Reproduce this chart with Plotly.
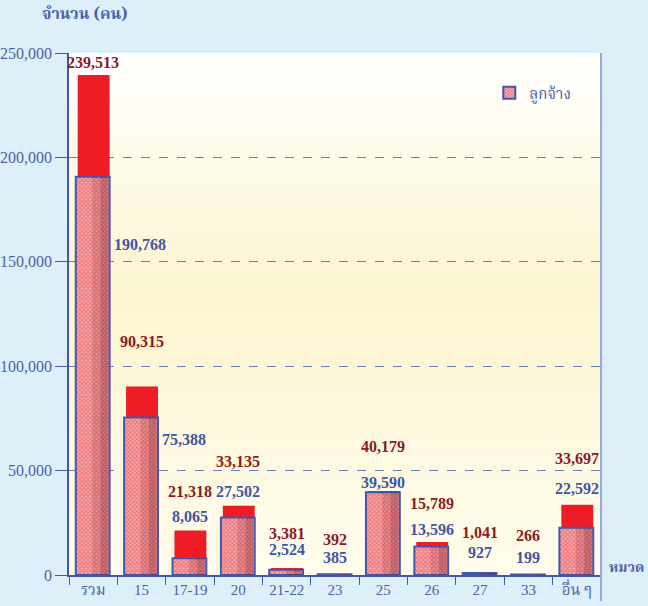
import plotly.graph_objects as go

categories = ["รวม", "15", "17-19", "20", "21-22", "23", "25", "26", "27", "33", "อื่น ๆ"]
total_values = [239513, 90315, 21318, 33135, 3381, 392, 40179, 15789, 1041, 266, 33697]
employee_values = [190768, 75388, 8065, 27502, 2524, 385, 39590, 13596, 927, 199, 22592]
y_ticks = [0, 50000, 100000, 150000, 200000, 250000]
y_tick_text = ["0", "50,000", "100,000", "150,000", "200,000", "250,000"]
legend_name = "ลูกจ้าง"
y_title = "จำนวน (คน)"
x_title = "หมวด"

SERIF = "Liberation Serif, Times New Roman, Noto Serif Thai, Noto Sans Thai, DejaVu Serif, serif"
THAI = "Noto Serif Thai, Noto Sans Thai, Loma, Garuda, DejaVu Sans, Noto Sans, sans-serif"
BLUE = "#3f56a6"
DARKRED = "#8b1a22"
RED = "#ee1c25"

fig = go.Figure()

# background gradient bands (white -> light yellow -> near white)
n = 40
def lerp(c1, c2, t):
    return tuple(int(round(a + (b - a) * t)) for a, b in zip(c1, c2))
white = (255, 255, 255)
yellow = (252, 245, 208)
bottom = (255, 252, 236)
for i in range(n):
    f = (i + 0.5) / n  # 0 bottom -> 1 top
    if f > 0.55:
        c = lerp(yellow, white, (f - 0.55) / 0.45)
    else:
        c = lerp(bottom, yellow, f / 0.55)
    fig.add_shape(type="rect", xref="x domain", yref="y domain",
                  x0=0, x1=1, y0=i / n, y1=(i + 1) / n,
                  fillcolor="rgb(%d,%d,%d)" % c, line_width=0, layer="below")

xidx = list(range(len(categories)))

# total (red) bars
fig.add_trace(go.Bar(
    x=xidx, y=total_values, width=0.66, offset=-0.32,
    marker=dict(color=RED, line=dict(width=0)),
    showlegend=False, hoverinfo="y"))

# employee (pink hatched) bars
fig.add_trace(go.Bar(
    x=xidx, y=employee_values, width=0.70, offset=-0.36, name=legend_name,
    marker=dict(color="#f6aeae",
                pattern=dict(shape="x", fgcolor="#e62a34", size=3, solidity=0.5),
                line=dict(color="#4256ae", width=2)),
    showlegend=True, hoverinfo="y"))

# 3D shading on right side of employee bars
fig.add_trace(go.Bar(
    x=xidx, y=employee_values, width=0.33, offset=-0.02,
    base=0, marker=dict(color="rgba(120,40,50,0.18)", line=dict(width=0)),
    showlegend=False, hoverinfo="skip"))
fig.add_trace(go.Bar(
    x=xidx, y=employee_values, width=0.16, offset=0.15,
    base=0, marker=dict(color="rgba(110,30,40,0.22)", line=dict(width=0)),
    showlegend=False, hoverinfo="skip"))

# value labels
red_shift = [2, 34, 28, 34, 24, 24, 34, 28, 30, 28, 36]
blue_shift = [0, 0, 3, 4, 8, 6, -2, 2, 10, 6, 6]
for i, cat in enumerate(categories):
    fig.add_annotation(x=i, y=total_values[i], text="<b>%s</b>" % format(total_values[i], ","),
                       showarrow=False, yanchor="bottom", yshift=red_shift[i],
                       font=dict(family=SERIF, size=16, color=DARKRED))
    if i < 2:
        fig.add_annotation(x=i + 0.35, y=employee_values[i],
                           text="<b>%s</b>" % format(employee_values[i], ","),
                           showarrow=False, xanchor="left", yanchor="middle",
                           yshift=[-68, -22][i], xshift=2,
                           font=dict(family=SERIF, size=16, color=BLUE))
    else:
        fig.add_annotation(x=i, y=total_values[i],
                           text="<b>%s</b>" % format(employee_values[i], ","),
                           showarrow=False, yanchor="bottom", yshift=blue_shift[i],
                           font=dict(family=SERIF, size=16, color=BLUE))

# axis titles
fig.add_annotation(xref="paper", yref="paper", x=-0.055, y=1.045, xanchor="left", yanchor="bottom",
                   text="<b>" + y_title + "</b>", showarrow=False,
                   font=dict(family=THAI, size=16, color="#4a5fa8"))
fig.add_annotation(xref="paper", yref="paper", x=1.012, y=0.0, xanchor="left", yanchor="middle",
                   yshift=7, text="<b>" + x_title + "</b>", showarrow=False,
                   font=dict(family=THAI, size=14, color="#4a5fa8"))

# right border line
fig.add_shape(type="line", xref="x domain", yref="y domain", x0=1, x1=1, y0=-0.05, y1=1,
              line=dict(color="#94a9d8", width=2))

fig.update_layout(
    width=648, height=606,
    margin=dict(l=69, r=47, t=53, b=31, autoexpand=False),
    paper_bgcolor="#ddeff9",
    plot_bgcolor="#ffffff",
    barmode="overlay",
    legend=dict(x=0.79, y=0.955, xanchor="left", yanchor="top",
                bgcolor="rgba(0,0,0,0)",
                font=dict(family=THAI, size=15, color="#4a5fa8")),
    xaxis=dict(tickmode="array", tickvals=xidx, ticktext=categories,
               ticks="", showline=True, linecolor="#4256ae", linewidth=1.5,
               showgrid=False, automargin=False, zeroline=False,
               minor=dict(tickmode="array", tickvals=[i - 0.5 for i in xidx] + [len(xidx) - 0.5],
                          ticks="outside", ticklen=8, tickcolor="#4256ae", showgrid=False),
               tickfont=dict(family=SERIF, size=15, color="#4a5fa8"),
               range=[-0.5, len(xidx) - 0.5]),
    yaxis=dict(range=[0, 250000], tickvals=y_ticks, ticktext=y_tick_text,
               ticks="outside", ticklen=12, tickcolor="#4256ae",
               showline=True, linecolor="#4256ae", linewidth=1.5,
               showgrid=True, gridcolor="#6a7cc0", griddash="dash", gridwidth=1,
               zeroline=False, automargin=False,
               tickfont=dict(family=SERIF, size=16, color="#4a5fa8")),
)

fig.write_html("out.html", config={"displayModeBar": False},
               post_script="document.body.style.margin='0';document.body.style.overflow='hidden';")
